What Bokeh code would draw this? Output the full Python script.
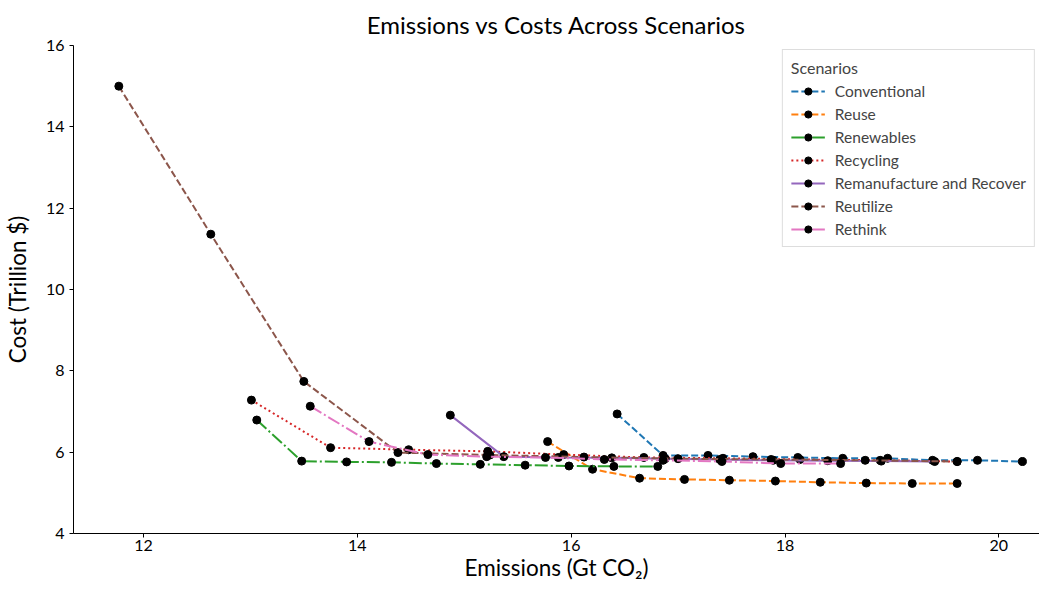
from bokeh.plotting import figure
from bokeh.models import Legend, LegendItem, Range1d, FixedTicker
from bokeh.embed import file_html
from bokeh.resources import INLINE

# ---- data ----
scenarios = ["Conventional", "Reuse", "Renewables", "Recycling",
             "Remanufacture and Recover", "Reutilize", "Rethink"]

conventional_x = [16.43, 16.86, 17.28, 17.70, 18.12, 18.54, 18.96, 19.38, 19.80, 20.22]
conventional_y = [6.94, 5.92, 5.92, 5.89, 5.87, 5.85, 5.85, 5.80, 5.80, 5.77]

reuse_x = [15.78, 16.20, 16.64, 17.06, 17.48, 17.91, 18.33, 18.76, 19.19, 19.61]
reuse_y = [6.26, 5.58, 5.36, 5.33, 5.31, 5.29, 5.26, 5.24, 5.23, 5.23]

renewables_x = [13.06, 13.48, 13.90, 14.32, 14.74, 15.15, 15.57, 15.98, 16.40, 16.81]
renewables_y = [6.79, 5.78, 5.76, 5.75, 5.72, 5.70, 5.68, 5.66, 5.65, 5.65]

recycling_x = [13.01, 13.75, 14.48, 15.22, 15.93, 16.68, 17.42, 18.14, 18.89, 19.61]
recycling_y = [7.28, 6.11, 6.06, 6.02, 5.94, 5.87, 5.85, 5.82, 5.80, 5.77]

remanufacture_x = [14.87, 15.37, 15.88, 16.38, 16.88, 17.39, 17.89, 18.40, 18.90, 19.40]
remanufacture_y = [6.91, 5.89, 5.87, 5.86, 5.84, 5.82, 5.80, 5.79, 5.78, 5.77]

reutilize_x = [11.77, 12.63, 13.50, 14.38, 15.24, 16.12, 17.00, 17.87, 18.75, 19.61]
reutilize_y = [15.00, 11.36, 7.74, 5.99, 5.93, 5.88, 5.84, 5.82, 5.80, 5.77]

rethink_x = [13.56, 14.11, 14.66, 15.21, 15.76, 16.31, 16.86, 17.41, 17.96, 18.52]
rethink_y = [7.13, 6.26, 5.94, 5.89, 5.87, 5.82, 5.80, 5.77, 5.72, 5.72]

x_ticks = [12, 14, 16, 18, 20]
y_ticks = [4, 6, 8, 10, 12, 14, 16]

series = [
    (conventional_x, conventional_y, "#1f77b4", "7 3"),
    (reuse_x, reuse_y, "#ff7f0e", "7 3"),
    (renewables_x, renewables_y, "#2ca02c", "13 3 2 3"),
    (recycling_x, recycling_y, "#d62728", "2 3"),
    (remanufacture_x, remanufacture_y, "#9467bd", "solid"),
    (reutilize_x, reutilize_y, "#8c564b", "7 3"),
    (rethink_x, rethink_y, "#e377c2", "13 3 2 3"),
]

FONT = "Lato"

p = figure(width=1039, height=583, output_backend="svg", toolbar_location=None,
           x_range=Range1d(11.346, 20.38), y_range=Range1d(4, 16),
           min_border_left=61, min_border_right=0, min_border_top=45,
           min_border_bottom=40,
           title="Emissions vs Costs Across Scenarios")

p.title.text_font = FONT
p.title.text_font_size = "24px"
p.title.text_font_style = "normal"
p.title.align = "center"
p.title.text_color = "#000000"
p.title.standoff = 14

p.grid.visible = False
p.outline_line_color = None

for ax in (p.xaxis[0], p.yaxis[0]):
    ax.major_label_text_font = FONT
    ax.major_label_text_font_size = "16px"
    ax.major_label_text_color = "#000000"
    ax.axis_label_text_font = FONT
    ax.axis_label_text_font_size = "22.5px"
    ax.axis_label_text_font_style = "normal"
    ax.axis_label_text_color = "#000000"
    ax.minor_tick_line_color = None
    ax.major_tick_in = 0
    ax.major_tick_out = 4
    ax.axis_line_color = "#000000"
    ax.major_tick_line_color = "#000000"

p.xaxis.ticker = FixedTicker(ticks=x_ticks)
p.yaxis.ticker = FixedTicker(ticks=y_ticks)
p.xaxis.axis_label = "Emissions (Gt CO₂)"
p.yaxis.axis_label = "Cost (Trillion $)"
p.xaxis.axis_label_standoff = 0
p.yaxis.axis_label_standoff = 12
p.xaxis.major_label_standoff = 2

items = []
for (xs, ys, col, dash), name in zip(series, scenarios):
    lr = p.line(xs, ys, line_color=col, line_width=2, line_dash=dash)
    sr = p.scatter(xs, ys, size=8, fill_color="black", line_color="black")
    items.append(LegendItem(label=name, renderers=[lr, sr]))

legend = Legend(items=items, location="top_right", title="Scenarios")
legend.title_text_font = FONT
legend.title_text_font_size = "16px"
legend.title_text_font_style = "normal"
legend.label_text_font = FONT
legend.label_text_font_size = "15.5px"
legend.border_line_color = "#bbbbbb"
legend.border_line_width = 1
legend.background_fill_alpha = 0.9
legend.glyph_width = 34
legend.label_height = 18
legend.glyph_height = 18
legend.label_standoff = 10
legend.spacing = 5
legend.padding = 8
legend.margin = 4
p.add_layout(legend)

open("out.html", "w").write(file_html(p, INLINE))
